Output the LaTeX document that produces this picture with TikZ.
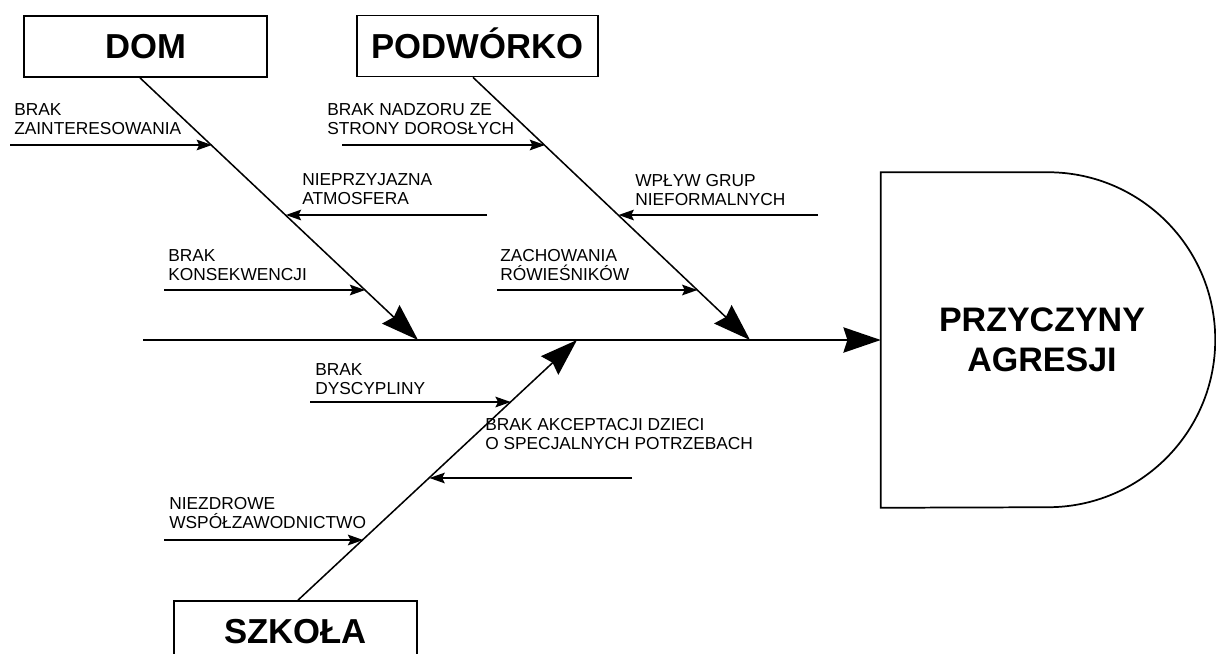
\documentclass[tikz,border=0pt]{standalone}
\usepackage{fontspec}
\setmainfont{Liberation Sans}
\usetikzlibrary{arrows.meta,calc}
\tikzset{
  causebox/.style={draw, line width=1.3pt, inner sep=0pt, minimum width=182.25pt, minimum height=45.75pt,
    font=\fontsize{26}{30}\selectfont\bfseries, text height=18.6pt, text depth=0pt},
  lbl/.style={anchor=north west, inner sep=0pt, align=left, font=\fontsize{13}{14.5}\selectfont},
  bone/.style={line width=1.15pt, -{Stealth[length=28pt,width=19pt,inset=3pt]}},
  spine/.style={line width=1.4pt, -{Stealth[length=28pt,width=19pt,inset=3pt]}},
  subarrow/.style={line width=1.15pt, -{Stealth[length=11.5pt,width=8pt,inset=2pt]}},
}
\begin{document}
\begin{tikzpicture}[x=0.75pt,y=-0.75pt]
\useasboundingbox[fill=white] (0,0) rectangle (1216,653);
\clip (0,0) rectangle (1216,653);

% cause boxes
\node[causebox] (dom) at (145.5,46.5) {DOM};
\node[causebox, minimum width=180.75pt] (pod) at (477.5,46) {PODWÓRKO};
\node[causebox] (szk) at (295.5,631.5) {SZKOŁA};

% effect
\node[inner sep=0pt, minimum width=241.5pt, minimum height=251.25pt, align=center,
  font=\fontsize{25.5}{30}\selectfont\bfseries] (eff) at (1042,340) {PRZYCZYNY\\AGRESJI};
\draw[line width=1.3pt] (eff.south west) -- (eff.north west) -- ++(167,0)
  arc[start angle=90, end angle=-90, radius=125.625pt] -- cycle;

% spine
\coordinate (sp0) at (143,340);
\draw[spine] (sp0) -- (eff.west);

% bones
\coordinate (domB) at ($(dom.south)+(-5.5,0)$);
\coordinate (domT) at (418,340);
\draw[bone] (domB) -- (domT);
\coordinate (podB) at ($(pod.south)+(-4.5,0)$);
\coordinate (podT) at (750,340);
\draw[bone] (podB) -- (podT);
\coordinate (szkB) at ($(szk.north)+(2.5,0)$);
\coordinate (szkT) at (577,340);
\draw[bone] (szkB) -- (szkT);

% points on bones
\coordinate (d1) at ($(domB)!0.2586!(domT)$);
\coordinate (d2) at ($(domB)!0.5247!(domT)$);
\coordinate (d3) at ($(domB)!0.8099!(domT)$);
\coordinate (q1) at ($(podB)!0.26!(podT)$);
\coordinate (q2) at ($(podB)!0.5256!(podT)$);
\coordinate (q3) at ($(podB)!0.8102!(podT)$);
\coordinate (k1) at ($(szkB)!0.2337!(szkT)$);
\coordinate (k2) at ($(szkB)!0.4713!(szkT)$);
\coordinate (k3) at ($(szkB)!0.7625!(szkT)$);

% sub-cause arrows
\coordinate (s1) at (10,145);
\coordinate (s2) at (487,215);
\coordinate (s3) at (164,290);
\coordinate (t1) at (342,145);
\coordinate (t2) at (818,215);
\coordinate (t3) at (497,290);
\coordinate (u1) at (164,540);
\coordinate (u2) at (632,478);
\coordinate (u3) at (310,402);
\draw[subarrow] (s1) -- (s1 -| d1);
\draw[subarrow] (s2) -- (s2 -| d2);
\draw[subarrow] (s3) -- (s3 -| d3);
\draw[subarrow] (t1) -- (t1 -| q1);
\draw[subarrow] (t2) -- (t2 -| q2);
\draw[subarrow] (t3) -- (t3 -| q3);
\draw[subarrow] (u1) -- (u1 -| k1);
\draw[subarrow] (u2) -- (u2 -| k2);
\draw[subarrow] (u3) -- (u3 -| k3);

% labels
\node[lbl] (l1) at (14,103) {BRAK\\ZAINTERESOWANIA};
\node[lbl] (l2) at (302,173) {NIEPRZYJAZNA\\ATMOSFERA};
\node[lbl] (l3) at (168,249) {BRAK\\KONSEKWENCJI};
\node[lbl] (l4) at (327,103) {BRAK NADZORU ZE\\STRONY DOROSŁYCH};
\node[lbl] (l5) at (635,174) {WPŁYW GRUP\\NIEFORMALNYCH};
\node[lbl] (l6) at (500,249) {ZACHOWANIA\\RÓWIEŚNIKÓW};
\node[lbl] (l7) at (315,363) {BRAK\\DYSCYPLINY};
\node[lbl] (l8) at (485,418) {BRAK AKCEPTACJI DZIECI\\O SPECJALNYCH POTRZEBACH};
\node[lbl] (l9) at (169,497) {NIEZDROWE\\WSPÓŁZAWODNICTWO};
\end{tikzpicture}
\end{document}
